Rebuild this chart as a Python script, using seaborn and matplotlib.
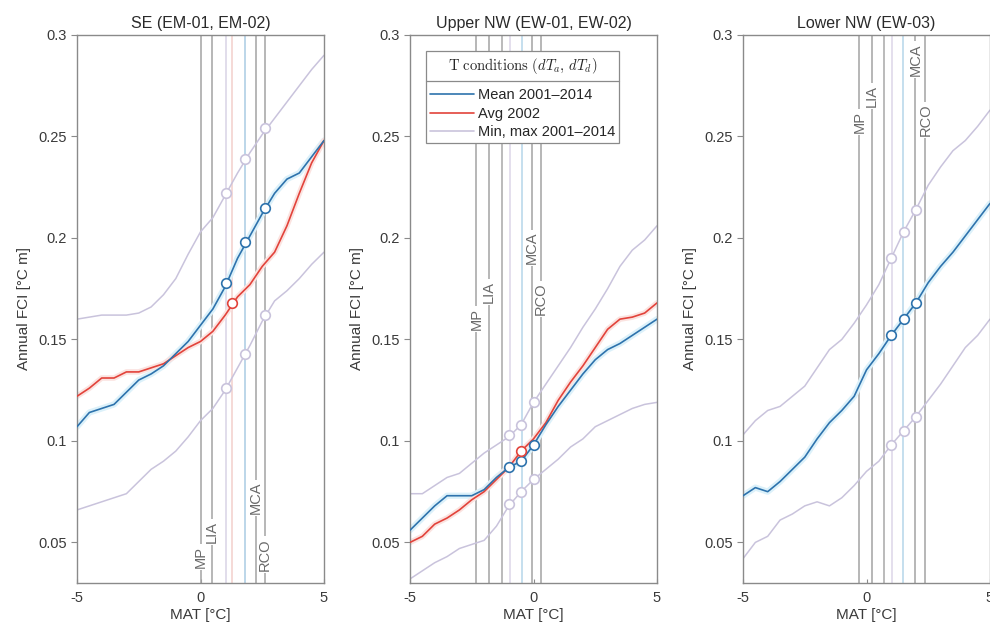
import numpy as np
import pandas as pd
import seaborn as sns
import matplotlib
matplotlib.use("Agg")
import matplotlib.pyplot as plt
from matplotlib.lines import Line2D


# data
mat = [-5, -4.5, -4, -3.5, -3, -2.5, -2, -1.5, -1, -0.5, 0,
       0.5, 1, 1.5, 2, 2.5, 3, 3.5, 4, 4.5, 5]

titles = ["SE (EM-01, EM-02)", "Upper NW (EW-01, EW-02)", "Lower NW (EW-03)"]
series_labels = ["Mean 2001\u20132014", "Avg 2002", "Min, max 2001\u20132014"]
period_names = ["MP", "LIA", "MCA", "RCO"]

# SE
se_mean = [0.107, 0.114, 0.116, 0.118, 0.124, 0.130, 0.133, 0.137, 0.143, 0.149, 0.157,
           0.165, 0.176, 0.190, 0.201, 0.212, 0.222, 0.229, 0.232, 0.240, 0.248]
se_avg = [0.122, 0.126, 0.131, 0.131, 0.134, 0.134, 0.136, 0.138, 0.142, 0.146, 0.149,
          0.154, 0.162, 0.171, 0.177, 0.186, 0.193, 0.206, 0.222, 0.237, 0.248]
se_max = [0.160, 0.161, 0.162, 0.162, 0.162, 0.163, 0.166, 0.172, 0.180, 0.192, 0.203,
          0.210, 0.221, 0.232, 0.242, 0.251, 0.259, 0.267, 0.275, 0.283, 0.290]
se_min = [0.066, 0.068, 0.070, 0.072, 0.074, 0.080, 0.086, 0.090, 0.095, 0.102, 0.110,
          0.116, 0.125, 0.136, 0.147, 0.159, 0.169, 0.174, 0.180, 0.187, 0.193]
se_periods = [0.0, 0.47, 2.24, 2.62]
se_cond = [1.05, 1.28, 1.79]
se_mark_x = [1.05, 1.79, 2.62]
se_mark_mean = [0.178, 0.198, 0.215]
se_mark_max = [0.222, 0.239, 0.254]
se_mark_min = [0.126, 0.143, 0.162]
se_mark_avg_x = [1.28]
se_mark_avg = [0.168]

# Upper NW
up_mean = [0.056, 0.062, 0.068, 0.073, 0.073, 0.073, 0.076, 0.082, 0.087, 0.090, 0.098,
           0.108, 0.117, 0.125, 0.133, 0.140, 0.145, 0.148, 0.152, 0.156, 0.160]
up_avg = [0.050, 0.053, 0.059, 0.062, 0.066, 0.071, 0.075, 0.081, 0.087, 0.095, 0.101,
          0.109, 0.120, 0.129, 0.137, 0.146, 0.155, 0.160, 0.161, 0.163, 0.168]
up_max = [0.074, 0.074, 0.078, 0.082, 0.084, 0.089, 0.094, 0.098, 0.102, 0.108, 0.119,
          0.128, 0.137, 0.146, 0.156, 0.165, 0.175, 0.186, 0.194, 0.199, 0.206]
up_min = [0.032, 0.036, 0.040, 0.043, 0.047, 0.049, 0.051, 0.058, 0.068, 0.075, 0.081,
          0.086, 0.091, 0.097, 0.101, 0.107, 0.110, 0.113, 0.116, 0.118, 0.119]
up_periods = [-2.31, -1.80, -0.08, 0.29]
up_cond = [-1.29, -0.94, -0.48]
up_mark_x = [-1.0, -0.5, 0.0]
up_mark_mean = [0.087, 0.090, 0.098]
up_mark_max = [0.103, 0.108, 0.119]
up_mark_min = [0.069, 0.075, 0.081]
up_mark_avg_x = [-0.5]
up_mark_avg = [0.095]

# Lower NW
lo_mean = [0.073, 0.077, 0.075, 0.080, 0.086, 0.092, 0.101, 0.109, 0.115, 0.122, 0.135,
           0.143, 0.152, 0.160, 0.168, 0.178, 0.186, 0.193, 0.201, 0.209, 0.217]
lo_max = [0.103, 0.110, 0.115, 0.117, 0.122, 0.127, 0.136, 0.145, 0.150, 0.158, 0.167,
          0.177, 0.190, 0.203, 0.214, 0.226, 0.235, 0.243, 0.248, 0.255, 0.263]
lo_min = [0.042, 0.050, 0.053, 0.061, 0.064, 0.068, 0.070, 0.068, 0.072, 0.078, 0.085,
          0.090, 0.098, 0.105, 0.112, 0.120, 0.128, 0.137, 0.146, 0.152, 0.160]
lo_periods = [-0.29, 0.22, 1.98, 2.38]
lo_cond = [0.71, 1.03, 1.49]
lo_mark_x = [1.0, 1.5, 2.0]
lo_mark_mean = [0.152, 0.160, 0.168]
lo_mark_max = [0.190, 0.203, 0.214]
lo_mark_min = [0.098, 0.105, 0.112]

yticks = [0.05, 0.1, 0.15, 0.2, 0.25, 0.3]
ytick_labels = ["0.05", "0.1", "0.15", "0.2", "0.25", "0.3"]
xticks = [-5, 0, 5]

panels = [
    dict(mean=se_mean, avg=se_avg, mx=se_max, mn=se_min, periods=se_periods, cond=se_cond,
         mx_x=se_mark_x, m_mean=se_mark_mean, m_max=se_mark_max, m_min=se_mark_min,
         ax_x=se_mark_avg_x, m_avg=se_mark_avg),
    dict(mean=up_mean, avg=up_avg, mx=up_max, mn=up_min, periods=up_periods, cond=up_cond,
         mx_x=up_mark_x, m_mean=up_mark_mean, m_max=up_mark_max, m_min=up_mark_min,
         ax_x=up_mark_avg_x, m_avg=up_mark_avg),
    dict(mean=lo_mean, avg=None, mx=lo_max, mn=lo_min, periods=lo_periods, cond=lo_cond,
         mx_x=lo_mark_x, m_mean=lo_mark_mean, m_max=lo_mark_max, m_min=lo_mark_min,
         ax_x=[], m_avg=[]),
]

# layout / style
label_y = [[0.043, 0.055, 0.072, 0.044],
           [0.160, 0.1735, 0.195, 0.170],
           [0.257, 0.270, 0.288, 0.258]]
cond_colors = [["#d9d3e6", "#f2cfcb", "#a9cbe3"],
               ["#a8a8a8", "#dcd6e8", "#b5d6ea"],
               ["#a8a8a8", "#dcd6e8", "#b5d6ea"]]
BLUE = "#2e73ad"
RED = "#e2433b"
PURPLE = "#c9c3dc"
GRAY = "#a3a3a3"
SPINE = "#8a8a8a"
TXT = "#3a3a3a"

sns.set_style("white")
plt.rcParams['font.family'] = ['Liberation Sans', 'DejaVu Sans']
plt.rcParams['mathtext.fontset'] = 'cm'

fig = plt.figure(figsize=(9.9, 6.38), dpi=100)
lefts = [77 / 990, 410 / 990, 743 / 990]
axes = [fig.add_axes([l, 55 / 638, 247 / 990, 548 / 638]) for l in lefts]

for i, (ax, p) in enumerate(zip(axes, panels)):
    ax.set_xlim(-5, 5)
    ax.set_ylim(0.03, 0.3)

    for x, c in zip(p["cond"], cond_colors[i]):
        ax.axvline(x, color=c, lw=1.1, zorder=1)

    sns.lineplot(x=mat, y=p["mx"], color=PURPLE, lw=1.1, ax=ax, zorder=2)
    sns.lineplot(x=mat, y=p["mn"], color=PURPLE, lw=1.1, ax=ax, zorder=2)
    sns.lineplot(x=mat, y=p["mean"], color="#dcf1fa", lw=4.5, ax=ax, zorder=2)
    if p["avg"] is not None:
        sns.lineplot(x=mat, y=p["avg"], color="#fbe3e0", lw=4.0, ax=ax, zorder=2)
        sns.lineplot(x=mat, y=p["avg"], color=RED, lw=1.2, ax=ax, zorder=3)
    sns.lineplot(x=mat, y=p["mean"], color=BLUE, lw=1.2, ax=ax, zorder=4)

    mk = dict(marker="o", s=48, facecolor="white", linewidth=1.2, ax=ax, zorder=5)
    sns.scatterplot(x=p["mx_x"], y=p["m_max"], edgecolor=PURPLE, **mk)
    sns.scatterplot(x=p["mx_x"], y=p["m_min"], edgecolor=PURPLE, **mk)
    sns.scatterplot(x=p["mx_x"], y=p["m_mean"], edgecolor=BLUE, **mk)
    if len(p["ax_x"]):
        sns.scatterplot(x=p["ax_x"], y=p["m_avg"], edgecolor=RED, **mk)

    ax.set_xticks(xticks)
    ax.set_xticklabels([str(t) for t in xticks])
    ax.set_yticks(yticks)
    ax.set_yticklabels(ytick_labels)
    ax.tick_params(axis="y", direction="out", length=4, width=0.8, color=SPINE,
                   labelcolor=TXT, labelsize=10.5, left=True)
    ax.tick_params(axis="x", direction="in", length=3, width=0.8, color=SPINE,
                   labelcolor=TXT, labelsize=10.5, bottom=True, pad=6)
    for sp in ax.spines.values():
        sp.set_color(SPINE)
        sp.set_linewidth(1.0)
        sp.set_visible(True)
    ax.set_xlabel("MAT [\u00b0C]", fontsize=11, color=TXT, labelpad=2)
    ax.set_ylabel("Annual FCI [\u00b0C m]", fontsize=11, color=TXT, labelpad=5)
    ax.set_title(titles[i], fontsize=11.5, color="#2a2a2a", pad=5)

    p["texts"] = [ax.text(x, y, name, rotation=90, ha="center", va="center",
                          fontsize=10.5, color="#6a6a6a", zorder=3)
                  for x, y, name in zip(p["periods"], label_y[i], period_names)]

# legend in middle panel
handles = [Line2D([], [], color=c, lw=1.2) for c in (BLUE, RED, PURPLE)]
leg = axes[1].legend(handles, series_labels,
                     title=r"$\mathrm{T\ conditions\ }(dT_a,\, dT_d)$",
                     loc="upper left", bbox_to_anchor=(0.065, 0.97),
                     frameon=True, fancybox=False, framealpha=1, edgecolor=SPINE,
                     fontsize=10.5, title_fontsize=10.5, handlelength=3.0,
                     handletextpad=0.25, borderpad=0.3, labelspacing=0.3,
                     borderaxespad=0)
leg.get_frame().set_linewidth(0.9)
leg.set_zorder(10)
leg._legend_box.sep = 9

# period lines broken around their labels
fig.canvas.draw()
renderer = fig.canvas.get_renderer()
for ax, p in zip(axes, panels):
    inv = ax.transData.inverted()
    for x, t in zip(p["periods"], p["texts"]):
        bb = t.get_window_extent(renderer)
        (_, y0), (_, y1) = inv.transform([[bb.x0, bb.y0 - 2], [bb.x1, bb.y1 + 2]])
        ax.vlines(x, 0.03, y0, color=GRAY, lw=1.1, zorder=1)
        ax.vlines(x, y1, 0.3, color=GRAY, lw=1.1, zorder=1)

# separator under legend title
tb = leg.get_title().get_window_extent(renderer)
fb = leg.get_frame().get_window_extent(renderer)
finv = fig.transFigure.inverted()
(lx0, ly), (lx1, _) = finv.transform([[fb.x0, tb.y0 - 5], [fb.x1, tb.y0 - 5]])
fig.add_artist(Line2D([lx0, lx1], [ly, ly], color=SPINE, lw=0.9,
                      transform=fig.transFigure, zorder=20))

fig.savefig("out.png", dpi=100)
